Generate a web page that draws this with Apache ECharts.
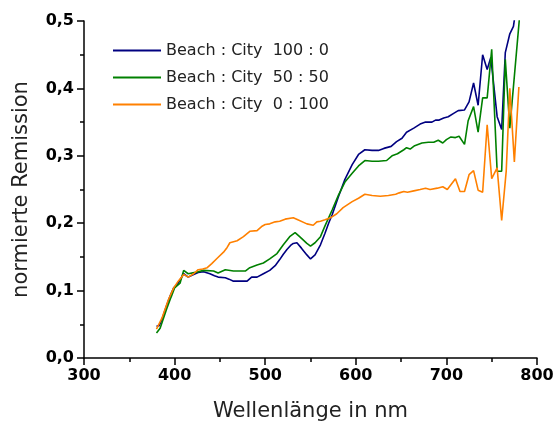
<!DOCTYPE html>
<html>
<head>
<meta charset="utf-8">
<script src="https://cdn.jsdelivr.net/npm/echarts@6/dist/echarts.min.js"></script>
<style>html,body{margin:0;padding:0;background:#fff}#c{width:558px;height:423px}</style>
</head>
<body>
<div id="c"></div>
<script>
const seriesNames = ['Beach : City  100 : 0', 'Beach : City  50 : 50', 'Beach : City  0 : 100'];

const blueX = [380,383,386,391,395,399,404,407,410,415,421,426,432,439,444,448,456,460,465,472,480,485,491,498,505,511,516,520,524,528,531,535,540,546,550,555,561,566,570,574,581,588,596,603,610,618,625,631,639,645,651,656,664,671,677,684,688,692,697,702,708,713,720,725,730,735,740,745,749,756,761,765,770,774,778];
const blueY = [0.047,0.048,0.057,0.077,0.092,0.104,0.111,0.118,0.125,0.120,0.124,0.127,0.128,0.125,0.122,0.120,0.119,0.117,0.114,0.114,0.114,0.120,0.120,0.125,0.130,0.137,0.146,0.154,0.161,0.167,0.170,0.171,0.163,0.153,0.147,0.153,0.168,0.185,0.200,0.213,0.240,0.265,0.287,0.302,0.309,0.308,0.308,0.311,0.314,0.321,0.326,0.335,0.341,0.347,0.350,0.350,0.353,0.353,0.356,0.358,0.363,0.367,0.368,0.380,0.408,0.375,0.450,0.428,0.446,0.358,0.339,0.453,0.481,0.492,0.530];

const greenX = [380,384,391,396,400,406,410,415,423,432,443,448,456,465,478,483,491,498,505,513,520,527,533,538,546,550,555,561,566,574,581,588,596,603,610,618,625,634,640,646,653,656,660,665,673,680,686,691,696,700,705,710,714,720,724,730,735,740,745,750,756,761,765,770,781];
const greenY = [0.037,0.044,0.072,0.090,0.104,0.111,0.130,0.125,0.127,0.130,0.129,0.126,0.131,0.129,0.129,0.134,0.138,0.141,0.147,0.155,0.168,0.180,0.186,0.180,0.170,0.166,0.171,0.180,0.196,0.220,0.242,0.261,0.274,0.285,0.293,0.292,0.292,0.293,0.300,0.303,0.309,0.312,0.310,0.315,0.319,0.320,0.320,0.323,0.319,0.324,0.328,0.327,0.329,0.317,0.352,0.373,0.335,0.386,0.386,0.458,0.277,0.277,0.443,0.341,0.510];

const orangeX = [380,386,393,399,404,410,415,421,426,431,436,441,447,454,458,461,469,476,483,491,496,500,505,511,516,522,531,536,546,553,557,561,566,572,579,586,596,603,610,618,627,636,644,648,653,657,664,671,677,682,690,696,701,710,715,720,725,730,735,740,745,750,756,761,766,770,775,780];
const orangeY = [0.043,0.059,0.086,0.104,0.114,0.124,0.120,0.125,0.131,0.132,0.134,0.140,0.148,0.157,0.164,0.171,0.174,0.180,0.188,0.189,0.195,0.198,0.199,0.202,0.203,0.206,0.208,0.205,0.199,0.197,0.202,0.203,0.205,0.208,0.214,0.223,0.232,0.237,0.243,0.241,0.240,0.241,0.243,0.245,0.247,0.246,0.248,0.250,0.252,0.250,0.252,0.254,0.250,0.266,0.247,0.247,0.272,0.278,0.249,0.246,0.346,0.266,0.282,0.204,0.277,0.400,0.291,0.402];

const colors = ['#000080', '#008000', '#ff8000'];
const xs = [blueX, greenX, orangeX];
const ys = [blueY, greenY, orangeY];

const FF = '"DejaVu Sans", Verdana, sans-serif';
const tickFont = {fontFamily: FF, fontSize: 16, fontWeight: 'bold', color: '#000'};
const nameFont = {fontFamily: FF, fontSize: 21, color: '#222'};

const chart = echarts.init(document.getElementById('c'), null, {renderer: 'canvas'});
chart.setOption({
  animation: false,
  backgroundColor: '#fff',
  grid: {left: 84, right: 21, top: 21, bottom: 65, containLabel: false, outerBoundsMode: 'none'},
  legend: {
    orient: 'vertical', left: 113, top: 41, itemGap: 8, padding: 0,
    itemWidth: 48, itemHeight: 2, icon: 'rect',
    textStyle: {fontFamily: FF, fontSize: 16, color: '#222', lineHeight: 19},
    data: seriesNames
  },
  xAxis: {
    type: 'value', min: 300, max: 800, interval: 100,
    name: 'Wellenlänge in nm', nameLocation: 'middle', nameGap: 43, nameTextStyle: nameFont,
    axisLine: {show: true, lineStyle: {color: '#000', width: 1.5}},
    axisTick: {show: true, inside: false, length: 7, lineStyle: {color: '#000', width: 1.5}},
    minorTick: {show: true, splitNumber: 2, length: 4, lineStyle: {color: '#000', width: 1.5}},
    axisLabel: Object.assign({margin: 10}, tickFont),
    splitLine: {show: false}
  },
  yAxis: {
    type: 'value', min: 0, max: 0.5, interval: 0.1,
    name: 'normierte Remission', nameLocation: 'middle', nameGap: 52, nameTextStyle: nameFont,
    axisLine: {show: true, lineStyle: {color: '#000', width: 1.5}},
    axisTick: {show: true, inside: false, length: 7, lineStyle: {color: '#000', width: 1.5}},
    minorTick: {show: true, splitNumber: 2, length: 4, lineStyle: {color: '#000', width: 1.5}},
    axisLabel: Object.assign({margin: 10, formatter: v => v.toFixed(1).replace('.', ',')}, tickFont),
    splitLine: {show: false}
  },
  series: seriesNames.map((n, i) => ({
    name: n, type: 'line', symbol: 'none', clip: true,
    color: colors[i],
    lineStyle: {color: colors[i], width: 1.6},
    data: xs[i].map((x, j) => [x, ys[i][j]])
  }))
});
</script>
</body>
</html>
